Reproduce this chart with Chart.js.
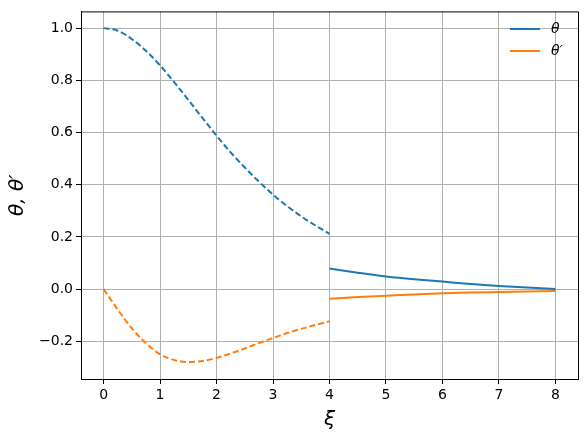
<!DOCTYPE html>
<html>
<head>
<meta charset="utf-8">
<title>Lane-Emden solution</title>
<script src="https://cdn.jsdelivr.net/npm/chart.js@4/dist/chart.umd.min.js"></script>
<style>
    html, body { margin: 0; padding: 0; background: #ffffff; }
    #chart { display: block; }
</style>
</head>
<body>
<canvas id="chart" width="586" height="441"></canvas>
<script>
// Inner solution (dashed), 0 <= xi <= 4
const xiInner = [0, 0.25, 0.5, 0.75, 1.0, 1.25, 1.5, 1.75, 2.0, 2.25, 2.5, 2.75, 3.0, 3.25, 3.5, 3.75, 4.0];
const thetaInner = [1.0, 0.99, 0.958, 0.913, 0.857, 0.793, 0.725, 0.656, 0.588, 0.524, 0.466, 0.412, 0.362, 0.318, 0.279, 0.244, 0.212];
const dThetaInner = [0.0, -0.078, -0.150, -0.207, -0.249, -0.271, -0.279, -0.275, -0.263, -0.246, -0.227, -0.206, -0.187, -0.168, -0.152, -0.137, -0.123];

// Outer solution (solid), 4 <= xi <= 8
const xiOuter = [4.0, 4.5, 5.0, 5.5, 6.0, 6.5, 7.0, 7.5, 8.0];
const thetaOuter = [0.079, 0.063, 0.049, 0.038, 0.029, 0.020, 0.012, 0.006, 0.001];
const dThetaOuter = [-0.037, -0.030, -0.025, -0.020, -0.016, -0.013, -0.011, -0.009, -0.007];

// Axis ticks
const xTicks = [0, 1, 2, 3, 4, 5, 6, 7, 8];
const yTicks = [-0.2, 0.0, 0.2, 0.4, 0.6, 0.8, 1.0];

const BLUE = '#1f77b4';
const ORANGE = '#ff7f0e';
const FONT = 'DejaVu Sans';

function toPoints(xs, ys) {
    return xs.map((x, i) => ({ x: x, y: ys[i] }));
}

function minusSign(text) {
    return text.replace('-', '\u2212');
}

function lineDataset(label, xs, ys, color, dashed) {
    return {
        label: label,
        data: toPoints(xs, ys),
        borderColor: color,
        backgroundColor: color,
        borderWidth: 2,
        borderDash: dashed ? [6, 3] : [],
        pointRadius: 0,
        cubicInterpolationMode: 'monotone',
        fill: false,
        inLegend: !dashed
    };
}

// Frame on top and right, plus the legend in the upper right corner
const framePlugin = {
    id: 'frame',
    afterDraw(chart) {
        const { ctx, chartArea: a } = chart;
        ctx.save();
        ctx.strokeStyle = '#000000';
        ctx.lineWidth = 1;
        ctx.beginPath();
        ctx.moveTo(a.left, a.top + 0.5);
        ctx.lineTo(a.right + 0.5, a.top + 0.5);
        ctx.lineTo(a.right + 0.5, a.bottom);
        ctx.stroke();

        // legend
        let y = 29;
        chart.data.datasets.forEach(ds => {
            if (!ds.inLegend) return;
            ctx.strokeStyle = ds.borderColor;
            ctx.lineWidth = 2;
            ctx.beginPath();
            ctx.moveTo(510, y);
            ctx.lineTo(540, y);
            ctx.stroke();
            ctx.fillStyle = '#000000';
            ctx.font = 'italic 14px "' + FONT + '"';
            ctx.textBaseline = 'middle';
            ctx.textAlign = 'left';
            ctx.fillText(ds.label, 551, y);
            y += 22;
        });
        ctx.restore();
    }
};

const ctx = document.getElementById('chart').getContext('2d');

new Chart(ctx, {
    type: 'line',
    data: {
        datasets: [
            lineDataset('\u03b8', xiOuter, thetaOuter, BLUE, false),
            lineDataset('\u03b8\u2032', xiOuter, dThetaOuter, ORANGE, false),
            lineDataset('\u03b8 inner', xiInner, thetaInner, BLUE, true),
            lineDataset('\u03b8\u2032 inner', xiInner, dThetaInner, ORANGE, true)
        ]
    },
    options: {
        responsive: false,
        animation: false,
        layout: {
            padding: { top: 9, right: 8, left: 0, bottom: 0 }
        },
        plugins: {
            legend: { display: false },
            tooltip: { enabled: false }
        },
        scales: {
            x: {
                type: 'linear',
                min: -0.4,
                max: 8.4,
                afterBuildTicks: function(scale) {
                    scale.ticks = xTicks.map(v => ({ value: v }));
                },
                afterFit: function(scale) {
                    scale.height = 62;
                },
                grid: {
                    color: '#b0b0b0',
                    lineWidth: 1,
                    tickColor: '#000000',
                    tickLength: 5
                },
                border: { color: '#000000', width: 1 },
                ticks: {
                    color: '#000000',
                    padding: 3,
                    maxRotation: 0,
                    font: { family: FONT, size: 14 },
                    callback: function(value) {
                        return minusSign(value.toFixed(0));
                    }
                },
                title: {
                    display: true,
                    text: '\u03be',
                    color: '#000000',
                    font: { family: FONT, size: 20, style: 'italic' },
                    padding: { top: 0, bottom: 9 }
                }
            },
            y: {
                type: 'linear',
                min: -0.344,
                max: 1.064,
                afterBuildTicks: function(scale) {
                    scale.ticks = yTicks.map(v => ({ value: v }));
                },
                afterFit: function(scale) {
                    scale.width = 81;
                },
                grid: {
                    color: '#b0b0b0',
                    lineWidth: 1,
                    tickColor: '#000000',
                    tickLength: 5
                },
                border: { color: '#000000', width: 1 },
                ticks: {
                    color: '#000000',
                    padding: 3,
                    font: { family: FONT, size: 14 },
                    callback: function(value) {
                        return minusSign(value.toFixed(1));
                    }
                },
                title: {
                    display: true,
                    text: '\u03b8, \u03b8\u2032',
                    color: '#000000',
                    font: { family: FONT, size: 20, style: 'italic' },
                    padding: { top: 6, bottom: 0 }
                }
            }
        }
    },
    plugins: [framePlugin]
});
</script>
</body>
</html>
